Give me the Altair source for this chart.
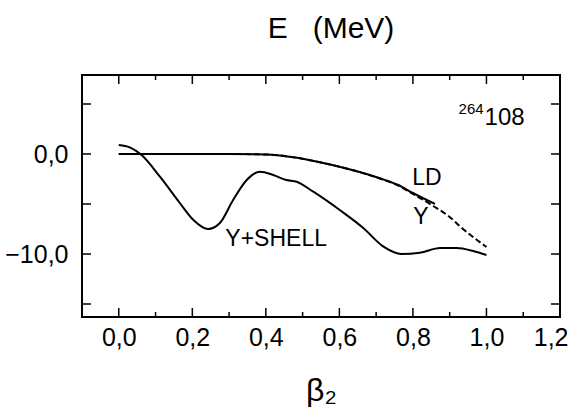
import altair as alt
import pandas as pd

# ---- data ----
beta_shell = [0.0, 0.03, 0.062, 0.112, 0.166, 0.203, 0.243, 0.275, 0.311, 0.348, 0.384,
              0.42, 0.456, 0.484, 0.529, 0.601, 0.665, 0.72, 0.769, 0.819, 0.874, 0.919,
              0.964, 1.0]
e_shell = [0.9, 0.67, -0.1, -2.27, -4.9, -6.6, -7.5, -6.9, -4.6, -2.6, -1.77,
           -2.1, -2.6, -2.77, -3.77, -5.6, -7.4, -9.27, -10.0, -9.87, -9.4, -9.4,
           -9.7, -10.1]

beta_ld = [0.0, 0.1, 0.2, 0.3, 0.4, 0.475, 0.55, 0.6, 0.65, 0.71, 0.76, 0.8, 0.86]
e_ld = [0.0, 0.0, 0.0, 0.0, -0.05, -0.33, -0.85, -1.27, -1.75, -2.43, -3.1, -3.9, -5.0]

beta_y = [0.0, 0.1, 0.2, 0.3, 0.4, 0.475, 0.55, 0.6, 0.65, 0.71, 0.76, 0.8, 0.855,
          0.9, 0.93, 0.96, 1.0]
e_y = [0.0, 0.0, 0.0, 0.0, -0.05, -0.33, -0.85, -1.27, -1.75, -2.45, -3.15, -4.0,
       -5.2, -6.3, -7.3, -8.2, -9.3]

x_label_values = [0.0, 0.2, 0.4, 0.6, 0.8, 1.0, 1.2]
x_major_ticks = [0.0, 0.2, 0.4, 0.6, 0.8, 1.0]
x_minor_ticks = [0.1, 0.3, 0.5, 0.7, 0.9, 1.1]
y_label_values = [0, -10]
y_major_ticks = [5, 0, -5, -10, -15]

ann_text = ["LD", "Y", "Y+SHELL"]
ann_beta = [0.838, 0.822, 0.428]
ann_e = [-2.4, -6.3, -8.5]

nucleus_mass = "264"
nucleus_z = "108"
nucleus_beta = 0.995
nucleus_e = 2.9

FONT = "Liberation Sans"
W, H = 478, 242
MAJ, MIN = 9, 5

xs = alt.Scale(domain=[-0.1, 1.2], nice=False, zero=False)
ys = alt.Scale(domain=[-16.3, 7.9], nice=False, zero=False)

x_axis = alt.Axis(values=x_label_values, labelExpr="replace(format(datum.value, '.1f'), '.', ',')",
                  ticks=False, domain=False, grid=False, labelFontSize=25, labelFont=FONT,
                  labelColor="black", labelPadding=8, labelFlush=True, labelFlushOffset=8,
                  title="β₂", titleFont=FONT, titleFontSize=32, titleFontWeight="normal",
                  titleColor="black", titlePadding=25)
y_axis = alt.Axis(values=y_label_values, labelExpr="replace(format(datum.value, '.1f'), '.', ',')",
                  ticks=False, domain=False, grid=False, labelFontSize=25, labelFont=FONT,
                  labelColor="black", labelPadding=14, title=None)

def X(field):
    return alt.X(field, type="quantitative", scale=xs, axis=x_axis)

def Y(field):
    return alt.Y(field, type="quantitative", scale=ys, axis=y_axis)

shell_df = pd.DataFrame({"beta": beta_shell, "E": e_shell})
ld_df = pd.DataFrame({"beta": beta_ld, "E": e_ld})
y_df = pd.DataFrame({"beta": beta_y, "E": e_y})

shell = alt.Chart(shell_df).mark_line(color="black", strokeWidth=2, interpolate="monotone").encode(
    x=X("beta"), y=Y("E"))
ld = alt.Chart(ld_df).mark_line(color="black", strokeWidth=2, interpolate="monotone").encode(
    x=X("beta"), y=Y("E"))
yline = alt.Chart(y_df).mark_line(color="black", strokeWidth=2, strokeDash=[6, 3],
                                  interpolate="monotone").encode(x=X("beta"), y=Y("E"))

ann_df = pd.DataFrame({"t": ann_text, "beta": ann_beta, "E": ann_e})
ann = alt.Chart(ann_df).mark_text(font=FONT, fontSize=23, color="black", baseline="middle",
                                  align="center").encode(x=X("beta"), y=Y("E"), text="t:N")
nuc_df = pd.DataFrame({"z": [nucleus_z], "a": [nucleus_mass], "beta": [nucleus_beta], "E": [nucleus_e]})
nuc_z = alt.Chart(nuc_df).mark_text(font=FONT, fontSize=24, color="black", baseline="alphabetic",
                                    align="left").encode(x=X("beta"), y=Y("E"), text="z:N")
nuc_a = alt.Chart(nuc_df).mark_text(font=FONT, fontSize=15, color="black",
                                    baseline="alphabetic", align="right", dx=-1, dy=-11).encode(
    x=X("beta"), y=Y("E"), text="a:N")

# inward tick marks on all four sides
xmaj_df = pd.DataFrame({"v": x_major_ticks})
xmin_df = pd.DataFrame({"v": x_minor_ticks})
ymaj_df = pd.DataFrame({"v": y_major_ticks})

def xticks(df, length, top):
    if top:
        enc = dict(y=alt.value(0), y2=alt.value(length))
    else:
        enc = dict(y=alt.value(H), y2=alt.value(H - length))
    return alt.Chart(df).mark_rule(color="black", strokeWidth=1.5).encode(x=X("v"), **enc)

def yticks(df, length, right):
    if right:
        enc = dict(x=alt.value(W), x2=alt.value(W - length))
    else:
        enc = dict(x=alt.value(0), x2=alt.value(length))
    return alt.Chart(df).mark_rule(color="black", strokeWidth=1.5).encode(y=Y("v"), **enc)

ticks = [xticks(xmaj_df, MAJ, False), xticks(xmaj_df, MAJ, True),
         xticks(xmin_df, MIN, False), xticks(xmin_df, MIN, True),
         yticks(ymaj_df, MAJ, False), yticks(ymaj_df, MAJ, True)]

chart = alt.layer(shell, ld, yline, ann, nuc_z, nuc_a, *ticks).properties(
    width=W, height=H,
    autosize=alt.AutoSizeParams(type="none"),
    padding={"left": 82, "top": 75, "right": 16, "bottom": 90},
    title=alt.TitleParams("E\u00a0\u00a0\u00a0(MeV)", font=FONT, fontSize=30, fontWeight="normal",
                          color="black", anchor="middle", offset=30, dx=10),
    background="white",
).configure_view(stroke="black", strokeWidth=2)

chart.save("out.html", embed_options={"renderer": "svg", "actions": False})
